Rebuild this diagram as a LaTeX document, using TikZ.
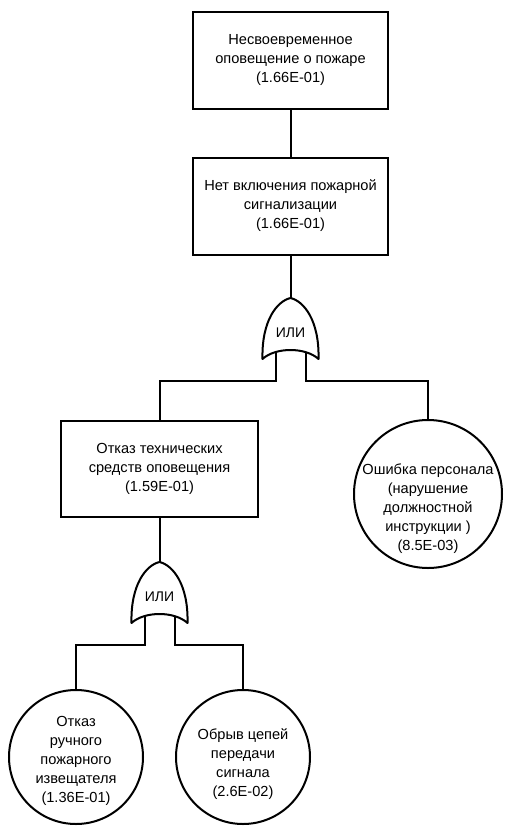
\documentclass[tikz,border=0pt]{standalone}
\usepackage{fontspec}
\setmainfont{Liberation Sans}
\begin{document}
\begin{tikzpicture}[x=1pt,y=-1pt,
  every node/.style={font=\fontsize{14.6}{19}\selectfont, align=center, inner sep=0pt},
  event/.style={draw, line width=2pt, rectangle, minimum width=195pt, minimum height=97pt},
  basic/.style={draw, line width=2pt, circle},
  wire/.style={line width=2pt},
  gatebody/.style={line width=2pt, line join=round},
  gatelabel/.style={font=\fontsize{14}{16}\selectfont}]
\useasboundingbox (0,0) rectangle (508,833);

% OR gate: #1 name, (#2,#3) apex; legs at #1l / #1r, tips 61 below the apex
\newcommand\orgatebox[3]{%
  \draw[gatebody] (#2-28,#3+61)
    .. controls (#2-29,#3+22) and (#2-13,#3+3) .. (#2,#3)
    .. controls (#2+13,#3+3) and (#2+29,#3+22) .. (#2+28,#3+61)
    .. controls (#2+15,#3+49) and (#2-15,#3+49) .. cycle;
  \coordinate (#1top) at (#2,#3);
  \coordinate (#1l) at (#2-15,#3+54);
  \coordinate (#1r) at (#2+15,#3+54);
  \coordinate (#1lb) at (#2-15,#3+83);
  \coordinate (#1rb) at (#2+15,#3+83);
  \node[gatelabel] (#1) at (#2,#3+35) {ИЛИ};}

% events
\node[event] (top) at (290.5,60) {Несвоевременное\\оповещение о пожаре\\(1.66E-01)};
\node[event] (alarm) at (290.5,206) {Нет включения пожарной\\сигнализации\\(1.66E-01)};
\node[event, minimum width=197pt, minimum height=96pt] (tech) at (159.5,469)
  {Отказ технических\\средств оповещения\\(1.59E-01)};

% gates
\orgatebox{ga}{290.5}{298}
\orgatebox{gb}{159.5}{562}

% basic events
\node[basic, minimum size=148pt] (staff) at (428,494) {};
\node (stafftxt) at (428,509) {Ошибка персонала\\(нарушение\\должностной\\инструкции )\\(8.5E-03)};
\node[basic, minimum size=134pt] (manual) at (76,757) {};
\node (manualtxt) at (76,761) {Отказ\\ручного\\пожарного\\извещателя\\(1.36E-01)};
\node[basic, minimum size=134pt] (circuit) at (243,757) {};
\node (circuittxt) at (243,764) {Обрыв цепей\\передачи\\сигнала\\(2.6E-02)};

% connectors
\draw[wire] (top.south) -- (alarm.north);
\draw[wire] (alarm.south) -- (gatop);
\draw[wire] (gal) -- (galb) -| (tech.north);
\draw[wire] (gar) -- (garb) -| (staff.north);
\draw[wire] (tech.south) -- (gbtop);
\draw[wire] (gbl) -- (gblb) -| (manual.north);
\draw[wire] (gbr) -- (gbrb) -| (circuit.north);
\end{tikzpicture}
\end{document}
